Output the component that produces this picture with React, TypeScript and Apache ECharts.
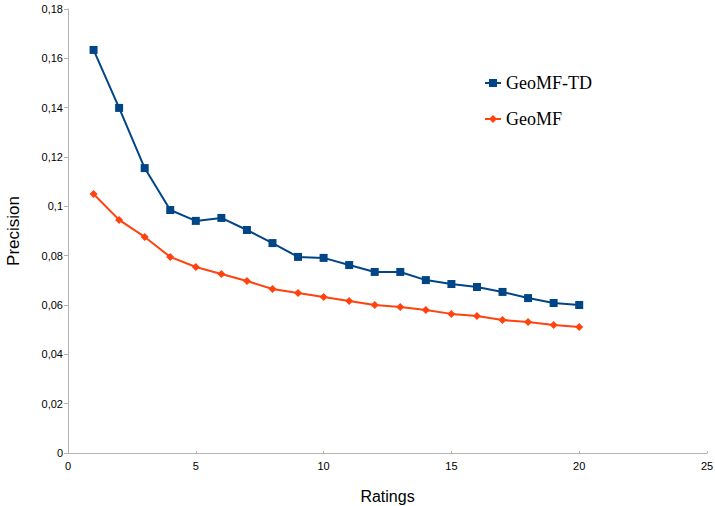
import React, { useEffect, useRef } from "react";
import * as echarts from "echarts";

const ratings = [1, 2, 3, 4, 5, 6, 7, 8, 9, 10, 11, 12, 13, 14, 15, 16, 17, 18, 19, 20];
const geoMfTd = [0.1634, 0.1399, 0.1155, 0.0985, 0.0941, 0.0953, 0.0904, 0.0851, 0.0795, 0.0791, 0.0762, 0.0734, 0.0734, 0.0701, 0.0685, 0.0673, 0.0653, 0.0628, 0.0608, 0.06];
const geoMf = [0.105, 0.0945, 0.0876, 0.0795, 0.0754, 0.0726, 0.0697, 0.0665, 0.0649, 0.0632, 0.0616, 0.06, 0.0592, 0.058, 0.0564, 0.0555, 0.0539, 0.0531, 0.0519, 0.0511];

const fmt = (v: number) => String(Number(v.toFixed(2))).replace(".", ",");

export default function App() {
  const ref = useRef<HTMLDivElement>(null);
  useEffect(() => {
    const chart = echarts.init(ref.current!, null, { renderer: "svg" });
    const axisLine = { show: true, lineStyle: { color: "#b3b3b3", width: 1 } };
    const label = { color: "#000", fontFamily: "Liberation Sans", fontSize: 11 };
    chart.setOption({
      animation: false,
      backgroundColor: "#fff",
      grid: { left: 68, right: 8, top: 9, bottom: 53, containLabel: false, outerBoundsMode: "none" },
      legend: {
        orient: "vertical",
        left: 479,
        top: 69,
        itemGap: 18,
        itemWidth: 16,
        itemHeight: 10,
        textStyle: { fontFamily: "Liberation Serif", fontSize: 18, color: "#000" },
        data: ["GeoMF-TD", "GeoMF"],
      },
      xAxis: {
        type: "value",
        min: 0,
        max: 25,
        interval: 5,
        name: "Ratings",
        nameLocation: "middle",
        nameGap: 35,
        nameTextStyle: { fontFamily: "Liberation Sans", fontSize: 16, color: "#000" },
        axisLine,
        axisTick: { show: true, inside: true, length: 2, lineStyle: { color: "#b3b3b3" } },
        axisLabel: { ...label, margin: 7 },
        splitLine: { show: false },
      },
      yAxis: {
        type: "value",
        min: 0,
        max: 0.18,
        interval: 0.02,
        name: "Precision",
        nameLocation: "middle",
        nameGap: 46,
        nameTextStyle: { fontFamily: "Liberation Sans", fontSize: 17, color: "#000" },
        axisLine,
        axisTick: { show: true, length: 4, lineStyle: { color: "#b3b3b3" } },
        axisLabel: { ...label, margin: 5, formatter: fmt },
        splitLine: { show: false },
      },
      series: [
        {
          name: "GeoMF-TD",
          type: "line",
          data: ratings.map((r, i) => [r, geoMfTd[i]]),
          symbol: "rect",
          symbolSize: 8,
          color: "#004586",
          lineStyle: { width: 2, color: "#004586" },
          itemStyle: { color: "#004586" },
        },
        {
          name: "GeoMF",
          type: "line",
          data: ratings.map((r, i) => [r, geoMf[i]]),
          symbol: "diamond",
          symbolSize: 8,
          color: "#ff420e",
          lineStyle: { width: 2, color: "#ff420e" },
          itemStyle: { color: "#ff420e" },
        },
      ],
    });
    return () => chart.dispose();
  }, []);
  return <div ref={ref} style={{ width: 715, height: 506, position: "absolute", left: 0, top: 0 }} />;
}
